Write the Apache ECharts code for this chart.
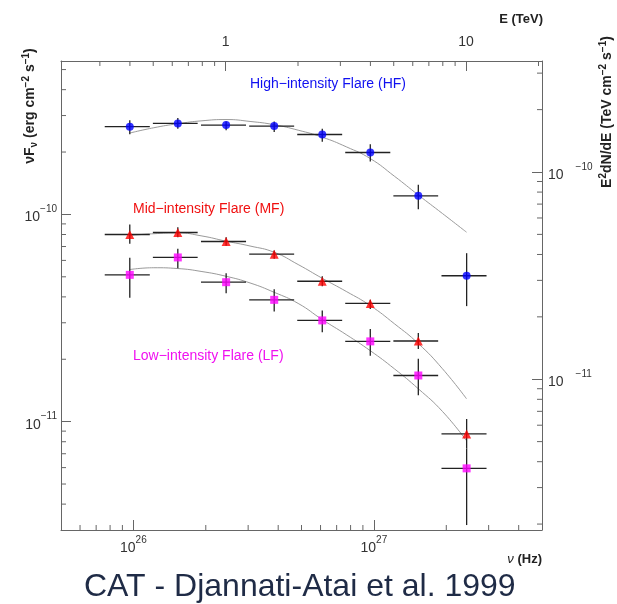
<!DOCTYPE html>
<html>
<head>
<meta charset="utf-8">
<title>CAT - Mkn 501 flare spectra</title>
<script src="https://cdn.jsdelivr.net/npm/echarts@6/dist/echarts.min.js"></script>
<style>
  html, body { margin: 0; padding: 0; background: #fff; }
  #chart { width: 617px; height: 604px; }
</style>
</head>
<body>
<div id="chart"></div>
<script>
// conversions used by the twin axes (top: TeV, right: TeV cm-2 s-1)
const HZ_TO_TEV = 4.1357e-27;
const ERG_TO_TEV = 0.6242;

// axis ranges
const nuRange = [5e25, 5e27];
const fluxRange = [3e-12, 5.5e-10];

// energy bins (Hz): centre, lower edge, upper edge
const nu   = [9.66e25, 1.53e26, 2.43e26, 3.85e26, 6.10e26, 9.66e26, 1.53e27, 2.43e27];
const nuLo = [7.60e25, 1.205e26, 1.91e26, 3.03e26, 4.80e26, 7.60e26, 1.205e27, 1.91e27];
const nuHi = [1.17e26, 1.85e26, 2.94e26, 4.66e26, 7.38e26, 1.17e27, 1.85e27, 2.94e27];

// nuFnu (erg cm-2 s-1) with error bar ends
const hfFlux = [2.65e-10, 2.75e-10, 2.70e-10, 2.67e-10, 2.43e-10, 1.99e-10, 1.23e-10, 5.06e-11];
const hfHi   = [2.85e-10, 2.92e-10, 2.81e-10, 2.81e-10, 2.59e-10, 2.18e-10, 1.39e-10, 6.50e-11];
const hfLo   = [2.44e-10, 2.59e-10, 2.55e-10, 2.50e-10, 2.24e-10, 1.80e-10, 1.06e-10, 3.61e-11];

const mfFlux = [8.00e-11, 8.18e-11, 7.40e-11, 6.43e-11, 4.76e-11, 3.72e-11, 2.45e-11, 8.72e-12];
const mfHi   = [8.95e-11, 8.68e-11, 7.77e-11, 6.70e-11, 5.03e-11, 3.87e-11, 2.68e-11, 1.03e-11];
const mfLo   = [7.22e-11, 7.77e-11, 7.06e-11, 6.11e-11, 4.50e-11, 3.50e-11, 2.24e-11, 7.41e-12];

const lfFlux = [5.11e-11, 6.20e-11, 4.71e-11, 3.87e-11, 3.08e-11, 2.44e-11, 1.67e-11, 5.95e-12];
const lfHi   = [6.18e-11, 6.83e-11, 5.20e-11, 4.36e-11, 3.44e-11, 2.80e-11, 2.01e-11, 7.41e-12];
const lfLo   = [3.96e-11, 5.50e-11, 4.17e-11, 3.40e-11, 2.70e-11, 2.08e-11, 1.34e-11, 3.17e-12];

// fitted curves
const curveNu = [9.66e25, 1.216e26, 1.531e26, 1.928e26, 2.427e26, 3.055e26, 3.846e26, 4.842e26,
                 6.095e26, 7.674e26, 9.66e26, 1.216e27, 1.531e27, 1.928e27, 2.427e27];
const hfFit = [2.47e-10, 2.62e-10, 2.74e-10, 2.83e-10, 2.87e-10, 2.81e-10, 2.71e-10, 2.55e-10,
               2.36e-10, 2.12e-10, 1.86e-10, 1.53e-10, 1.24e-10, 1.01e-10, 8.21e-11];
const mfFit = [7.92e-11, 8.07e-11, 8.14e-11, 7.87e-11, 7.43e-11, 7.04e-11, 6.57e-11, 5.73e-11,
               4.92e-11, 4.25e-11, 3.63e-11, 2.97e-11, 2.38e-11, 1.80e-11, 1.29e-11];
const lfFit = [5.42e-11, 5.53e-11, 5.48e-11, 5.30e-11, 5.03e-11, 4.67e-11, 4.21e-11, 3.72e-11,
               3.11e-11, 2.63e-11, 2.20e-11, 1.80e-11, 1.44e-11, 1.12e-11, 8.09e-12];

// minor tick values for each side
const nuMinor = [6e25, 7e25, 8e25, 9e25, 2e26, 3e26, 4e26, 5e26, 6e26, 7e26, 8e26, 9e26, 2e27, 3e27, 4e27];
const eMinor = [0.3, 0.4, 0.5, 0.6, 0.7, 0.8, 0.9, 2, 3, 4, 5, 6, 7, 8, 9, 20];
const fluxMinor = [4e-12, 5e-12, 6e-12, 7e-12, 8e-12, 9e-12, 2e-11, 3e-11, 4e-11, 5e-11, 6e-11,
                   7e-11, 8e-11, 9e-11, 2e-10, 3e-10, 4e-10, 5e-10];
const tevMinor = [2e-12, 3e-12, 4e-12, 5e-12, 6e-12, 7e-12, 8e-12, 9e-12, 2e-11, 3e-11, 4e-11, 5e-11,
                  6e-11, 7e-11, 8e-11, 9e-11, 2e-10, 3e-10];

const FONT = 'Liberation Sans';
const AXIS_COLOR = '#666';
const BAR_COLOR = '#222';

function pow10Label(v) {
    const e = Math.log10(v);
    if (Math.abs(e - Math.round(e)) > 1e-6) return '';
    return '{b|10}{s|' + String(Math.round(e)).replace('-', '\u2212') + '}';
}

const powRich = {
    b: {fontFamily: FONT, fontSize: 14, color: '#333', lineHeight: 20, verticalAlign: 'bottom'},
    s: {fontFamily: FONT, fontSize: 10, color: '#333', lineHeight: 12, verticalAlign: 'top'}
};
const powRichRight = {
    b: powRich.b,
    s: {fontFamily: FONT, fontSize: 10, color: '#333', lineHeight: 12, verticalAlign: 'top', padding: [0, 0, 0, 12]}
};

function errData(flux, lo, hi) {
    return nu.map((v, i) => [v, flux[i], nuLo[i], nuHi[i], lo[i], hi[i]]);
}

function renderErr(params, api) {
    const c = api.coord([api.value(0), api.value(1)]);
    const l = api.coord([api.value(2), api.value(1)]);
    const r = api.coord([api.value(3), api.value(1)]);
    const b = api.coord([api.value(0), api.value(4)]);
    const t = api.coord([api.value(0), api.value(5)]);
    const style = {stroke: BAR_COLOR, lineWidth: 1.3};
    return {
        type: 'group',
        children: [
            {type: 'line', shape: {x1: l[0], y1: c[1], x2: r[0], y2: c[1]}, style: style},
            {type: 'line', shape: {x1: c[0], y1: t[1], x2: c[0], y2: b[1]}, style: style}
        ]
    };
}

// short inward ticks at 2..9 of each decade
function minorTicks(values, side, xi, yi) {
    const horiz = side === 'bottom' || side === 'top';
    return {
        type: 'custom',
        xAxisIndex: xi,
        yAxisIndex: yi,
        silent: true,
        clip: false,
        data: values.map(v => horiz ? [v, 1] : [1, v]),
        encode: horiz ? {x: 0} : {y: 1},
        renderItem: function (params, api) {
            const cs = params.coordSys;
            let x1, y1, x2, y2;
            if (horiz) {
                const x = api.coord([api.value(0), fluxRange[0]])[0];
                const y = side === 'bottom' ? cs.y + cs.height : cs.y;
                x1 = x2 = x;
                y1 = y;
                y2 = side === 'bottom' ? y - 5 : y + 5;
            } else {
                const y = api.coord([nuRange[0], api.value(1)])[1];
                const x = side === 'left' ? cs.x : cs.x + cs.width;
                y1 = y2 = y;
                x1 = x;
                x2 = side === 'left' ? x + 5 : x - 5;
            }
            return {type: 'line', shape: {x1: x1, y1: y1, x2: x2, y2: y2},
                    style: {stroke: AXIS_COLOR, lineWidth: 1}};
        }
    };
}

function fitLine(values) {
    return {
        type: 'line',
        data: curveNu.map((v, i) => [v, values[i]]),
        smooth: true,
        showSymbol: false,
        silent: true,
        lineStyle: {color: '#9a9a9a', width: 1},
        z: 1
    };
}

function errSeries(flux, lo, hi) {
    return {
        type: 'custom',
        data: errData(flux, lo, hi),
        encode: {x: 0, y: 1},
        renderItem: renderErr,
        silent: true,
        z: 2
    };
}

function points(flux, symbol, size, color) {
    return {
        type: 'scatter',
        data: nu.map((v, i) => [v, flux[i]]),
        symbol: symbol,
        symbolSize: size,
        itemStyle: {color: color},
        z: 3
    };
}

const chart = echarts.init(document.getElementById('chart'));

const logAxisCommon = {
    type: 'log',
    logBase: 10,
    splitLine: {show: false},
    axisLine: {show: true, lineStyle: {color: AXIS_COLOR, width: 1}},
    axisTick: {show: true, inside: true, length: 10, lineStyle: {color: AXIS_COLOR}}
};

const titleRich = {
    t: {fontFamily: FONT, fontSize: 14, fontWeight: 'bold', fill: '#222', lineHeight: 18},
    u: {fontFamily: FONT, fontSize: 10, fontWeight: 'bold', fill: '#222', lineHeight: 18, verticalAlign: 'bottom'},
    p: {fontFamily: FONT, fontSize: 10, fontWeight: 'bold', fill: '#222', lineHeight: 10, verticalAlign: 'top'}
};

chart.setOption({
    animation: false,
    backgroundColor: '#fff',
    title: {
        text: 'CAT - Djannati-Atai et al. 1999',
        left: 79,
        top: 566,
        textStyle: {fontFamily: FONT, fontSize: 32, fontWeight: 'normal', color: '#1f2b46'}
    },
    grid: {left: 61, right: 75, top: 61, bottom: 74},
    xAxis: [
        Object.assign({}, logAxisCommon, {
            position: 'bottom',
            min: nuRange[0],
            max: nuRange[1],
            axisLabel: {margin: 5, formatter: pow10Label, rich: powRich}
        }),
        Object.assign({}, logAxisCommon, {
            position: 'top',
            min: nuRange[0] * HZ_TO_TEV,
            max: nuRange[1] * HZ_TO_TEV,
            axisLabel: {
                margin: 12,
                fontFamily: FONT,
                fontSize: 14,
                color: '#333',
                formatter: function (v) {
                    const e = Math.log10(v);
                    return Math.abs(e - Math.round(e)) > 1e-6 ? '' : String(Math.round(v));
                }
            }
        })
    ],
    yAxis: [
        Object.assign({}, logAxisCommon, {
            position: 'left',
            min: fluxRange[0],
            max: fluxRange[1],
            axisLabel: {margin: 4, formatter: pow10Label, rich: powRich}
        }),
        Object.assign({}, logAxisCommon, {
            position: 'right',
            min: fluxRange[0] * ERG_TO_TEV,
            max: fluxRange[1] * ERG_TO_TEV,
            axisLabel: {margin: 6, formatter: pow10Label, rich: powRichRight}
        })
    ],
    graphic: [
        {
            type: 'text', x: 30, y: 106, rotation: Math.PI / 2,
            style: {
                text: '{t|\u03bdF}{u|\u03bd}{t| (erg cm}{p|\u22122}{t| s}{p|\u22121}{t|)}',
                align: 'center', verticalAlign: 'middle',
                rich: titleRich
            }
        },
        {
            type: 'text', x: 607, y: 112, rotation: Math.PI / 2,
            style: {
                text: '{t|E}{p|2}{t|dN/dE (TeV cm}{p|\u22122}{t| s}{p|\u22121}{t|)}',
                align: 'center', verticalAlign: 'middle',
                rich: titleRich
            }
        },
        {
            type: 'text', x: 543, y: 19,
            style: {text: 'E (TeV)', align: 'right', verticalAlign: 'middle',
                    font: 'bold 13px "' + FONT + '"', fill: '#222'}
        },
        {
            type: 'text', x: 542, y: 559,
            style: {
                text: '{i|\u03bd}{t| (Hz)}', align: 'right', verticalAlign: 'middle',
                rich: {
                    i: {fontFamily: FONT, fontSize: 13, fontStyle: 'italic', fill: '#222'},
                    t: {fontFamily: FONT, fontSize: 13, fontWeight: 'bold', fill: '#222'}
                }
            }
        },
        {
            type: 'text', x: 250, y: 84,
            style: {text: 'High\u2212intensity Flare (HF)', verticalAlign: 'middle',
                    font: '14px "' + FONT + '"', fill: '#1010f0'}
        },
        {
            type: 'text', x: 133, y: 209,
            style: {text: 'Mid\u2212intensity Flare (MF)', verticalAlign: 'middle',
                    font: '14px "' + FONT + '"', fill: '#f01010'}
        },
        {
            type: 'text', x: 133, y: 356,
            style: {text: 'Low\u2212intensity Flare (LF)', verticalAlign: 'middle',
                    font: '14px "' + FONT + '"', fill: '#f010f0'}
        }
    ],
    series: [
        fitLine(hfFit),
        fitLine(mfFit),
        fitLine(lfFit),
        errSeries(hfFlux, hfLo, hfHi),
        errSeries(mfFlux, mfLo, mfHi),
        errSeries(lfFlux, lfLo, lfHi),
        points(hfFlux, 'circle', 8, '#0000ff'),
        points(mfFlux, 'triangle', 9, '#ff0000'),
        points(lfFlux, 'rect', 8, '#ff00ff'),
        minorTicks(nuMinor, 'bottom', 0, 0),
        minorTicks(eMinor, 'top', 1, 0),
        minorTicks(fluxMinor, 'left', 0, 0),
        minorTicks(tevMinor, 'right', 0, 1)
    ]
});
</script>
</body>
</html>
